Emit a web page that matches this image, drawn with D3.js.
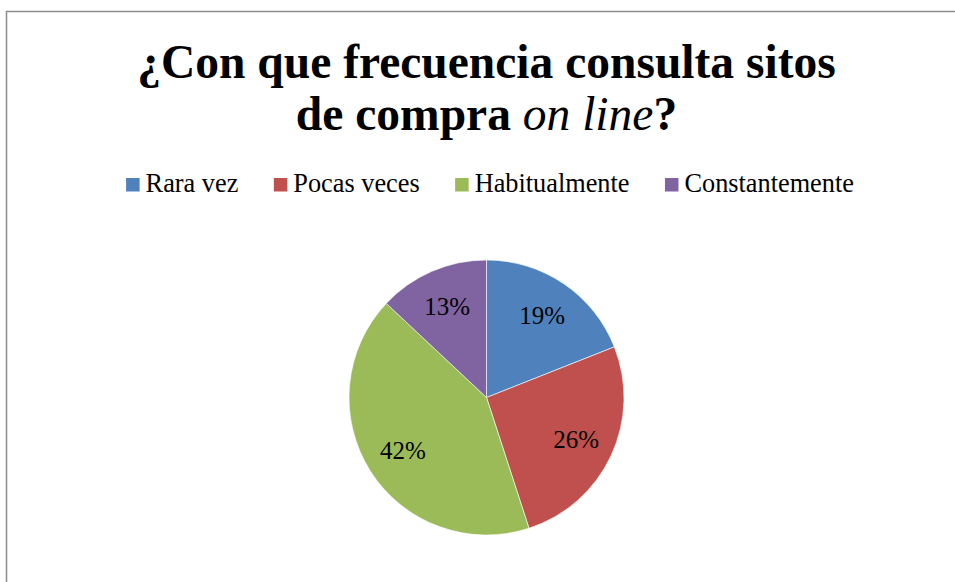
<!DOCTYPE html>
<html>
<head>
<meta charset="utf-8">
<script src="https://cdn.jsdelivr.net/npm/d3@7"></script>
<style>
  body { margin: 0; background: #fff; }
  svg { display: block; }
</style>
</head>
<body>
<svg></svg>
<script>
var categories = ["Rara vez", "Pocas veces", "Habitualmente", "Constantemente"]
var values = [19, 26, 42, 13]
var colors = ["#4F81BD", "#C0504D", "#9BBB59", "#8064A2"]

var width = 955, height = 582;
var cx = 486.5, cy = 397.5, radius = 137.5;
var serif = "'Liberation Serif', 'Times New Roman', serif";

var svg = d3.select("svg")
  .attr("width", width)
  .attr("height", height)
  .attr("viewBox", [0, 0, width, height])

// chart frame, runs off the right and bottom edge
svg.append("rect")
  .attr("x", 6.5)
  .attr("y", 11.5)
  .attr("width", width)
  .attr("height", height)
  .attr("fill", "none")
  .attr("stroke", "#8c8c8c")
  .attr("stroke-width", 1.5)

// title
var title = svg.append("text")
  .attr("text-anchor", "middle")
  .attr("font-family", serif)
  .attr("font-weight", "bold")
  .attr("font-size", 47.5)
  .attr("fill", "#000")

title.append("tspan")
  .attr("x", 486.5)
  .attr("y", 78)
  .text("¿Con que frecuencia consulta sitos")

var line2 = title.append("tspan")
  .attr("x", 486.5)
  .attr("y", 130)
line2.append("tspan").text("de compra ")
line2.append("tspan").attr("font-style", "italic").attr("font-weight", "normal").text("on line")
line2.append("tspan").text("?")

// legend
var color = d3.scaleOrdinal(categories, colors)

var legend = svg.append("g").attr("class", "legend")
var item = legend.selectAll("g")
  .data(categories)
  .join("g")

item.append("rect")
  .attr("width", 13.5)
  .attr("height", 13.5)
  .attr("y", -14)
  .attr("fill", d => color(d))

item.append("text")
  .attr("x", 19.5)
  .attr("font-family", serif)
  .attr("font-size", 26.3)
  .attr("fill", "#000")
  .text(d => d)

var gap = 35.5
var xpos = 0
item.each(function() {
  var g = d3.select(this)
  var w = 19.5 + g.select("text").node().getComputedTextLength()
  g.attr("transform", `translate(${xpos},0)`)
  xpos += w + gap
})
var legendWidth = xpos - gap
legend.attr("transform", `translate(${490 - legendWidth / 2},192)`)

// pie
var pie = d3.pie().sort(null).value(d => d)
var arcs = pie(values)

var arc = d3.arc().innerRadius(0).outerRadius(radius)
var labelArc = d3.arc().innerRadius(radius * 0.44).outerRadius(radius)

var plot = svg.append("g")
  .attr("transform", `translate(${cx},${cy})`)

plot.selectAll("path")
  .data(arcs)
  .join("path")
    .attr("d", arc)
    .attr("fill", (d, i) => color(categories[i]))
    .attr("stroke", "#fff")
    .attr("stroke-width", 0.6)

plot.selectAll("text")
  .data(arcs)
  .join("text")
    .attr("transform", d => `translate(${labelArc.centroid(d)})`)
    .attr("text-anchor", "middle")
    .attr("dy", "0.35em")
    .attr("font-family", serif)
    .attr("font-size", 25)
    .attr("fill", "#000")
    .text(d => d.data + "%")
</script>
</body>
</html>
